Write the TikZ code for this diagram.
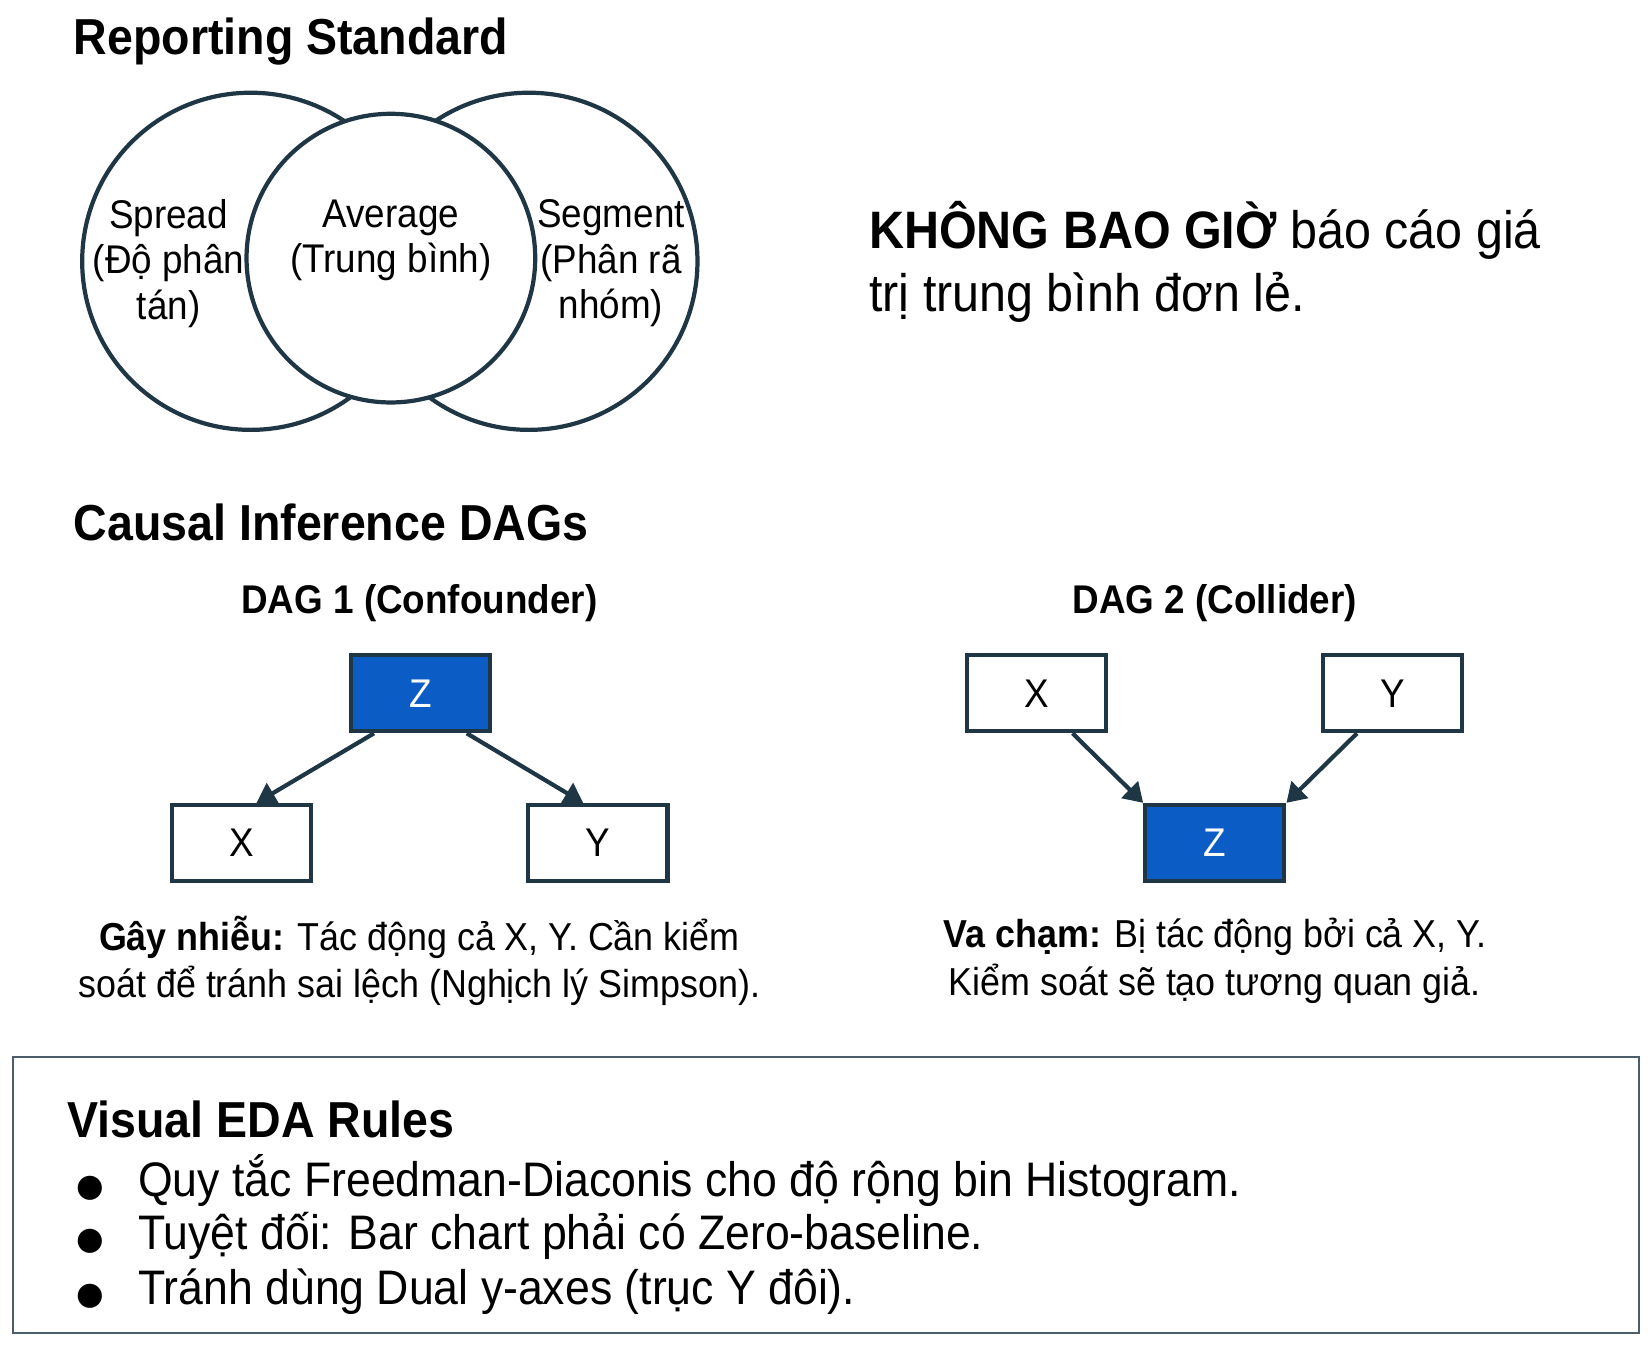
\documentclass[tikz,border=0pt]{standalone}
\usepackage{fontspec}
\setmainfont{Liberation Sans}[FakeStretch=0.92]
\newfontfamily\djv{DejaVu Sans}
\usetikzlibrary{arrows.meta}
\definecolor{ink}{HTML}{1F3645}
\definecolor{zblue}{HTML}{0B5CC4}
\begin{document}
\begin{tikzpicture}[x=0.5pt,y=-0.5pt,
  circ/.style={draw=ink,line width=2pt,fill=white},
  box/.style={draw=ink,line width=2pt,fill=white,minimum width=66pt,minimum height=36pt,inner sep=0pt,font=\fontsize{19}{22}\selectfont},
  zbox/.style={box,fill=zblue,text=white},
  arr/.style={draw=ink,line width=2pt,-{Triangle[length=9pt,width=11pt]}},
  head/.style={font=\fontsize{24}{28}\selectfont\bfseries,anchor=base west},
  sub/.style={font=\fontsize{19}{22}\selectfont\bfseries},
  captxt/.style={font=\fontsize{18.5}{22.5}\selectfont,align=center},
  vt/.style={font=\fontsize{19}{21.5}\selectfont,align=center}]
\useasboundingbox (0,0) rectangle (1568,1280);
\node[head] (t1) at (63,52) {Reporting Standard};
\draw[circ] (238,248) circle (160);
\draw[circ] (502,248) circle (160);
\draw[circ] (371,245) circle (137);
\node[vt] (sp) at (160,250) {Spread\\(Độ phân\\tán)};
\node[vt] (av) at (371,228) {Average\\(Trung bình)};
\node[vt] (sg) at (580,250) {Segment\\(Phân rã\\nhóm)};
\node[anchor=north west,align=left,font=\fontsize{25}{30}\selectfont] (kb) at (818,184) {\textbf{KHÔNG BAO GIỜ} báo cáo giá\\trị trung bình đơn lẻ.};
\node[head] (t2) at (63,513) {Causal Inference DAGs};
\node[sub] (d1) at (398,572) {DAG 1 (Confounder)};
\node[sub] (d2) at (1153,572) {DAG 2 (Collider)};
\node[zbox] (z1) at (399,658) {Z};
\node[box] (x1) at (229.5,800) {X};
\node[box] (y1) at (567.5,800) {Y};
\draw[arr] ([xshift=12pt]z1.south west) -- ([xshift=7pt]x1.north);
\draw[arr] ([xshift=-12pt]z1.south east) -- ([xshift=-7pt]y1.north);
\node[box] (x2) at (984,658) {X};
\node[box] (y2) at (1322,658) {Y};
\node[zbox] (z2) at (1153,800) {Z};
\draw[arr] ([xshift=-17pt]x2.south east) -- (z2.north west);
\draw[arr] ([xshift=17pt]y2.south west) -- (z2.north east);
\node[captxt] (c1) at (398,912) {\textbf{Gây nhiễu:} Tác động cả X, Y. Cần kiểm\\soát để tránh sai lệch (Nghịch lý Simpson).};
\node[captxt] (c2) at (1153,912) {\textbf{Va chạm:} Bị tác động bởi cả X, Y.\\Kiểm soát sẽ tạo tương quan giả.};
\draw[draw=ink!80,line width=1pt] (12,1003) rectangle (1556,1265);
\node[head] (t3) at (57,1080) {Visual EDA Rules};
\begin{scope}[every node/.style={font=\fontsize{23}{27}\selectfont,anchor=base west}]
\node (b1) at (66,1136) {{\djv\fontsize{15}{18}\selectfont ●}\hspace{16pt}Quy tắc Freedman-Diaconis cho độ rộng bin Histogram.};
\node (b2) at (66,1186) {{\djv\fontsize{15}{18}\selectfont ●}\hspace{16pt}Tuyệt đối: Bar chart phải có Zero-baseline.};
\node (b3) at (66,1238) {{\djv\fontsize{15}{18}\selectfont ●}\hspace{16pt}Tránh dùng Dual y-axes (trục Y đôi).};
\end{scope}
\end{tikzpicture}
\end{document}
